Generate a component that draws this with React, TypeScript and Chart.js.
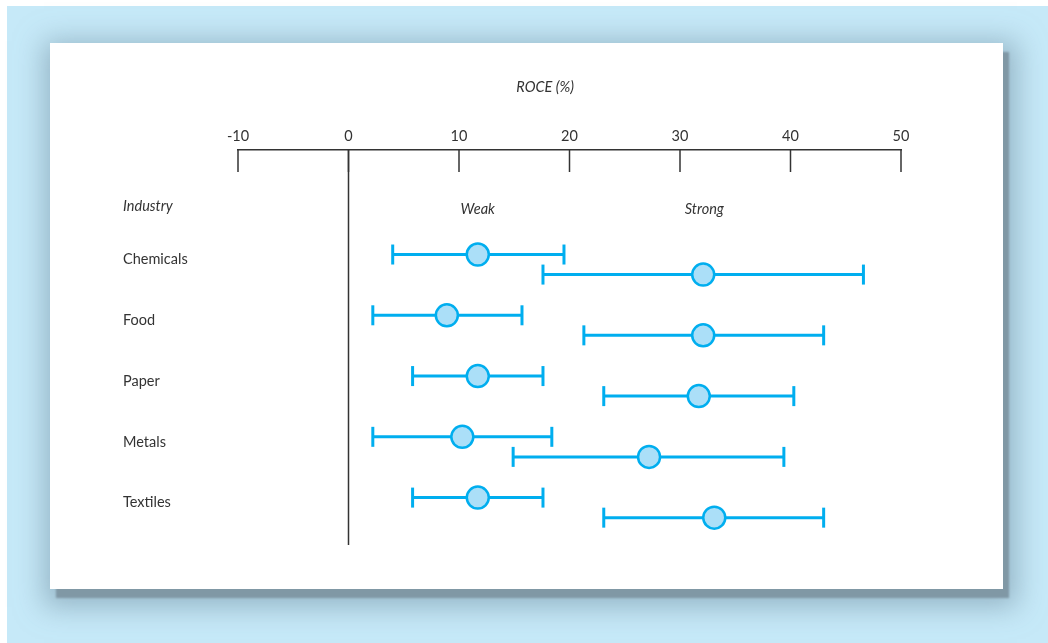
import { useEffect, useRef } from 'react';
import { Chart, registerables } from 'chart.js';

Chart.register(...registerables);

// ---- data ----
const industries = ['Chemicals', 'Food', 'Paper', 'Metals', 'Textiles'];
const weakLow = [4.0, 2.2, 5.8, 2.2, 5.8];
const weakMean = [11.7, 8.9, 11.7, 10.3, 11.7];
const weakHigh = [19.5, 15.7, 17.6, 18.4, 17.6];
const strongLow = [17.6, 21.3, 23.1, 14.9, 23.1];
const strongMean = [32.1, 32.1, 31.7, 27.2, 33.1];
const strongHigh = [46.6, 43.0, 40.3, 39.4, 43.0];
const xTicks = [-10, 0, 10, 20, 30, 40, 50];
const groupLabels = ['Weak', 'Strong'];
const axisTitle = 'ROCE (%)';
const rowHeader = 'Industry';

const FONT = 'Lato, "Open Sans", sans-serif';
const BLUE = '#00aeef';
const FILL = '#abdff8';
const TEXT = '#333333';
const STRONG_OFFSET = 0.33;

export default function App() {
  const ref = useRef<HTMLCanvasElement>(null);

  useEffect(() => {
    if (!ref.current) return;
    const datasets: any[] = [];
    const meanSet = (vals: number[], off: number) => ({
      data: vals.map((v, i) => ({ x: v, y: i + off })),
      showLine: false,
      pointStyle: 'circle',
      pointRadius: 11,
      pointHoverRadius: 11,
      pointBackgroundColor: FILL,
      pointBorderColor: BLUE,
      pointBorderWidth: 2.5,
      order: 0,
    });
    datasets.push(meanSet(weakMean, 0), meanSet(strongMean, STRONG_OFFSET));
    const ranges: [number[], number[], number][] = [
      [weakLow, weakHigh, 0],
      [strongLow, strongHigh, STRONG_OFFSET],
    ];
    industries.forEach((_, i) => {
      ranges.forEach(([lo, hi, off]) => {
        datasets.push({
          data: [
            { x: lo[i], y: i + off },
            { x: hi[i], y: i + off },
          ],
          showLine: true,
          borderColor: BLUE,
          borderWidth: 3,
          pointStyle: 'line',
          rotation: 90,
          pointRadius: 10,
          pointHoverRadius: 10,
          pointBorderColor: BLUE,
          pointBorderWidth: 3,
          order: 1,
          fill: false,
        });
      });
    });

    const deco = {
      id: 'deco',
      afterDraw(chart: any) {
        const { ctx, chartArea, scales } = chart;
        const x = scales.x;
        const y = scales.y;
        ctx.save();
        ctx.strokeStyle = TEXT;
        ctx.lineWidth = 1.5;
        xTicks.forEach((v) => {
          const px = x.getPixelForValue(v);
          ctx.beginPath();
          ctx.moveTo(px, chartArea.top);
          ctx.lineTo(px, chartArea.top + 22);
          ctx.stroke();
        });
        const z = x.getPixelForValue(0);
        ctx.beginPath();
        ctx.moveTo(z, chartArea.top);
        ctx.lineTo(z, chartArea.bottom);
        ctx.stroke();

        ctx.fillStyle = TEXT;
        ctx.textBaseline = 'middle';
        ctx.font = `italic 14.5px ${FONT}`;
        ctx.textAlign = 'center';
        ctx.fillText(axisTitle, x.getPixelForValue(17.8), chartArea.top - 63);
        ctx.fillText(groupLabels[0], x.getPixelForValue(11.7), chartArea.top + 59);
        ctx.fillText(groupLabels[1], x.getPixelForValue(32.2), chartArea.top + 59);
        ctx.textAlign = 'left';
        ctx.fillText(rowHeader, y.left, chartArea.top + 56);
        ctx.restore();
      },
    };

    const chart = new Chart(ref.current, {
      type: 'scatter',
      data: { datasets },
      options: {
        animation: false,
        responsive: false,
        events: [],
        layout: { padding: { left: 73, right: 102, top: 0, bottom: 44 } },
        plugins: { legend: { display: false }, tooltip: { enabled: false } },
        scales: {
          x: {
            type: 'linear',
            position: 'top',
            min: -10,
            max: 50,
            afterBuildTicks: (s: any) => {
              s.ticks = xTicks.map((v) => ({ value: v }));
            },
            afterFit: (s: any) => {
              s.height = 107;
            },
            ticks: {
              color: TEXT,
              font: { family: FONT, size: 14.5 },
              padding: 5,
              maxRotation: 0,
              autoSkip: false,
            },
            grid: { display: false, drawTicks: false },
            border: { display: true, color: TEXT, width: 1.5 },
          },
          y: {
            type: 'linear',
            position: 'left',
            reverse: true,
            min: -1.72,
            max: 4.78,
            afterBuildTicks: (s: any) => {
              s.ticks = industries.map((_, i) => ({ value: i }));
            },
            afterFit: (s: any) => {
              s.width = 115;
            },
            ticks: {
              callback: (v: any) => industries[v as number],
              crossAlign: 'far',
              labelOffset: 5,
              color: TEXT,
              font: { family: FONT, size: 14.5 },
              autoSkip: false,
            },
            grid: { display: false },
            border: { display: false },
          },
        },
      },
      plugins: [deco],
    } as any);
    return () => chart.destroy();
  }, []);

  return (
    <div
      style={{
        position: 'absolute',
        left: 7,
        top: 6,
        width: 1041,
        height: 637,
        background: '#c6e9f8',
      }}
    >
      <div
        style={{
          position: 'absolute',
          left: 43,
          top: 37,
          width: 953,
          height: 546,
          background: '#ffffff',
          boxShadow:
            '6px 9px 2px rgba(128,152,165,1), 4px 8px 26px 10px rgba(118,148,166,0.6)',
        }}
      >
        <canvas ref={ref} width={953} height={546} style={{ display: 'block' }} />
      </div>
    </div>
  );
}
